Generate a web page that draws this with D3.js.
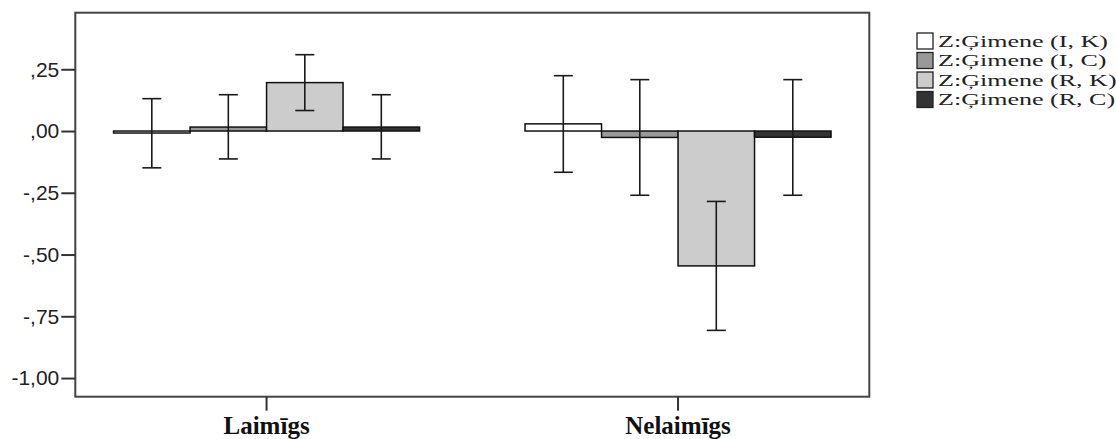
<!DOCTYPE html>
<html><head><meta charset="utf-8">
<script src="https://cdn.jsdelivr.net/npm/d3@7/dist/d3.min.js"></script>
<style>body{margin:0;background:#fff}svg{display:block}</style>
</head><body>
<svg id="c" width="1116" height="439"></svg>
<script>
const categories = ["Laimīgs", "Nelaimīgs"];
const series = ["Z:Ģimene (I, K)", "Z:Ģimene (I, C)", "Z:Ģimene (R, K)", "Z:Ģimene (R, C)"];
const colors = ["#ffffff", "#999999", "#cccccc", "#333333"];
// means per category, in series order
const meanLaimigs = [-0.008, 0.016, 0.196, 0.016];
const meanNelaimigs = [0.029, -0.026, -0.546, -0.025];
// 95% CI lower / upper
const lowLaimigs = [-0.149, -0.113, 0.083, -0.113];
const highLaimigs = [0.131, 0.147, 0.309, 0.147];
const lowNelaimigs = [-0.167, -0.260, -0.807, -0.260];
const highNelaimigs = [0.224, 0.208, -0.285, 0.208];
const tickValues = [0.25, 0, -0.25, -0.5, -0.75, -1.0];
const tickLabels = [",25", ",00", "-,25", "-,50", "-,75", "-1,00"];

const means = [meanLaimigs, meanNelaimigs];
const lows = [lowLaimigs, lowNelaimigs];
const highs = [highLaimigs, highNelaimigs];

const L = 75.3, R = 869.3, T = 12.7, B = 396.7;
const svg = d3.select("#c");

const x = d3.scaleBand().domain(categories).range([L, R]).paddingInner(0.2564).paddingOuter(0.093);
const xs = d3.scaleBand().domain(series).range([0, x.bandwidth()]).padding(0);
const y = d3.scaleLinear().domain([-1.0755, 0.479]).range([B, T]);

// bars
categories.forEach((c, ci) => {
  const g = svg.append("g").attr("transform", `translate(${x(c)},0)`);
  g.selectAll("rect").data(series).join("rect")
    .attr("x", s => xs(s))
    .attr("width", xs.bandwidth())
    .attr("y", (s, i) => y(Math.max(0, means[ci][i])))
    .attr("height", (s, i) => Math.abs(y(means[ci][i]) - y(0)))
    .attr("fill", (s, i) => colors[i])
    .attr("stroke", "#111").attr("stroke-width", 1.5);
  const cap = 9.5;
  series.forEach((s, i) => {
    const cx = xs(s) + xs.bandwidth() / 2;
    const eg = g.append("g").attr("stroke", "#1a1a1a").attr("stroke-width", 1.6);
    eg.append("line").attr("x1", cx).attr("x2", cx).attr("y1", y(highs[ci][i])).attr("y2", y(lows[ci][i]));
    eg.append("line").attr("x1", cx - cap).attr("x2", cx + cap).attr("y1", y(highs[ci][i])).attr("y2", y(highs[ci][i]));
    eg.append("line").attr("x1", cx - cap).attr("x2", cx + cap).attr("y1", y(lows[ci][i])).attr("y2", y(lows[ci][i]));
  });
});

// frame
svg.append("rect").attr("x", L).attr("y", T).attr("width", R - L).attr("height", B - T)
  .attr("fill", "none").attr("stroke", "#444").attr("stroke-width", 2);

// y axis
const ya = svg.append("g").attr("transform", `translate(${L},0)`)
  .call(d3.axisLeft(y).tickValues(tickValues).tickSize(14).tickPadding(2)
    .tickFormat((d, i) => tickLabels[i]));
ya.select(".domain").remove();
ya.selectAll(".tick line").attr("stroke", "#333").attr("stroke-width", 2);
ya.selectAll(".tick text").attr("font-family", "Liberation Sans, Arial, sans-serif")
  .attr("font-size", 21).attr("fill", "#222");

// x axis
const xa = svg.append("g").attr("transform", `translate(0,${B})`)
  .call(d3.axisBottom(x).tickSize(14).tickPadding(2));
xa.select(".domain").remove();
xa.selectAll(".tick line").attr("stroke", "#333").attr("stroke-width", 2);
xa.selectAll(".tick text").attr("font-family", "'Liberation Serif', 'Times New Roman', serif")
  .attr("font-weight", "bold").attr("font-size", 25).attr("fill", "#111")
  .attr("y", 37).attr("dy", 0);

// legend
const lg = svg.append("g");
const rowH = 19.5, sw = 16;
const texts = [];
series.forEach((s, i) => {
  const yy = 33 + i * rowH;
  lg.append("rect").attr("x", 917).attr("y", yy).attr("width", sw).attr("height", sw)
    .attr("fill", colors[i]).attr("stroke", "#222").attr("stroke-width", 1.3);
  texts.push(lg.append("text").attr("font-family", "'Liberation Serif', 'Times New Roman', serif")
    .attr("font-size", 17).attr("fill", "#222").text(s).datum(yy + 13.5));
});
const w0 = texts[0].node().getComputedTextLength();
const sx = 170 / w0;
texts.forEach(t => t.attr("transform", `translate(938,${t.datum()}) scale(${sx},1)`));
</script>
</body></html>
